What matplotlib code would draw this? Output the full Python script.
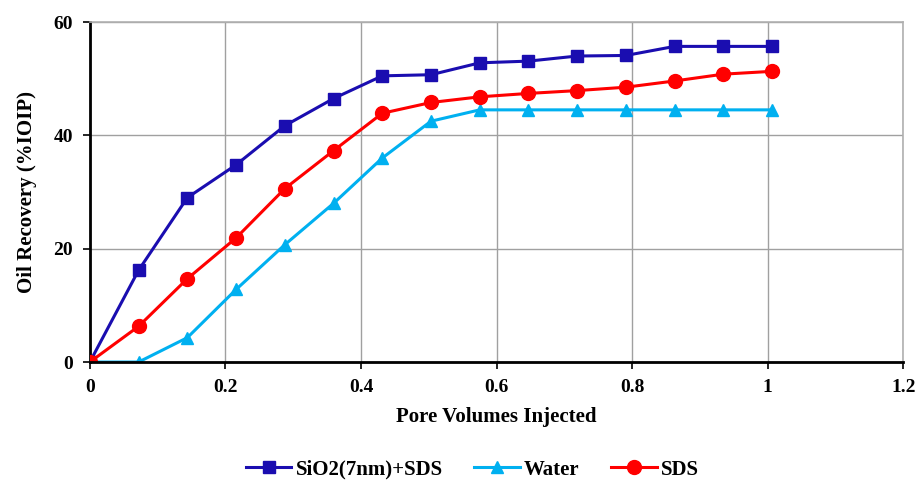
import numpy as np
from matplotlib import pyplot as plt

plt.rcParams['font.family'] = ['Liberation Serif', 'DejaVu Serif']
plt.rcParams['font.weight'] = 'bold'

pv = [0, 0.0719, 0.1438, 0.2157, 0.2876, 0.3595, 0.4314, 0.5033,
      0.5752, 0.6471, 0.719, 0.7909, 0.8628, 0.9347, 1.0066]
sio2_sds = [0, 16.2, 29.0, 34.8, 41.7, 46.5, 50.5, 50.7, 52.8, 53.1,
            54.0, 54.1, 55.7, 55.7, 55.7]
water = [0, 0, 4.3, 12.8, 20.7, 28.0, 36.0, 42.5, 44.5, 44.5,
         44.5, 44.5, 44.5, 44.5, 44.5]
sds = [0, 6.3, 14.7, 21.9, 30.6, 37.3, 43.9, 45.8, 46.8, 47.4,
       47.9, 48.5, 49.6, 50.8, 51.3]

fig = plt.figure(figsize=(9.17, 4.84), dpi=100)
ax = fig.add_axes([0.098, 0.252, 0.887, 0.7025])

ax.plot(pv, sio2_sds, color='#1a0db0', marker='s', markersize=8, lw=2.2,
        label='SiO2(7nm)+SDS', zorder=3)
ax.plot(pv, water, color='#00b0f0', marker='^', markersize=8, lw=2.2,
        label='Water', zorder=3)
ax.plot(pv, sds, color='#ff0000', marker='o', markersize=10, lw=2.2,
        label='SDS', zorder=4)

ax.set_xlim(0, 1.2)
ax.set_ylim(0, 60)
ax.set_xticks(np.arange(0, 1.21, 0.2))
ax.set_xticklabels(['0', '0.2', '0.4', '0.6', '0.8', '1', '1.2'])
ax.set_yticks([0, 20, 40, 60])
ax.grid(True, color='#a0a0a0', lw=1)
ax.set_axisbelow(True)
for s in ['top', 'right']:
    ax.spines[s].set_color('#b0b0b0')
    ax.spines[s].set_linewidth(1.2)
for s in ['left', 'bottom']:
    ax.spines[s].set_color('black')
    ax.spines[s].set_linewidth(2)
ax.spines['bottom'].set_zorder(5)
ax.tick_params(direction='out', length=5, width=1.2, labelsize=14, pad=7)
for lab in ax.get_xticklabels() + ax.get_yticklabels():
    lab.set_fontweight('bold')

ax.set_xlabel('Pore Volumes Injected', fontsize=15, fontweight='bold', labelpad=8)
ax.set_ylabel('Oil Recovery (%IOIP)', fontsize=15, fontweight='bold', labelpad=12)

fig.legend(loc='lower center', bbox_to_anchor=(0.515, -0.03), ncol=3,
           frameon=False, prop={'size': 15, 'weight': 'bold'},
           handlelength=2.2, columnspacing=1.5, handletextpad=0.2)

fig.savefig('out.png', dpi=100)
